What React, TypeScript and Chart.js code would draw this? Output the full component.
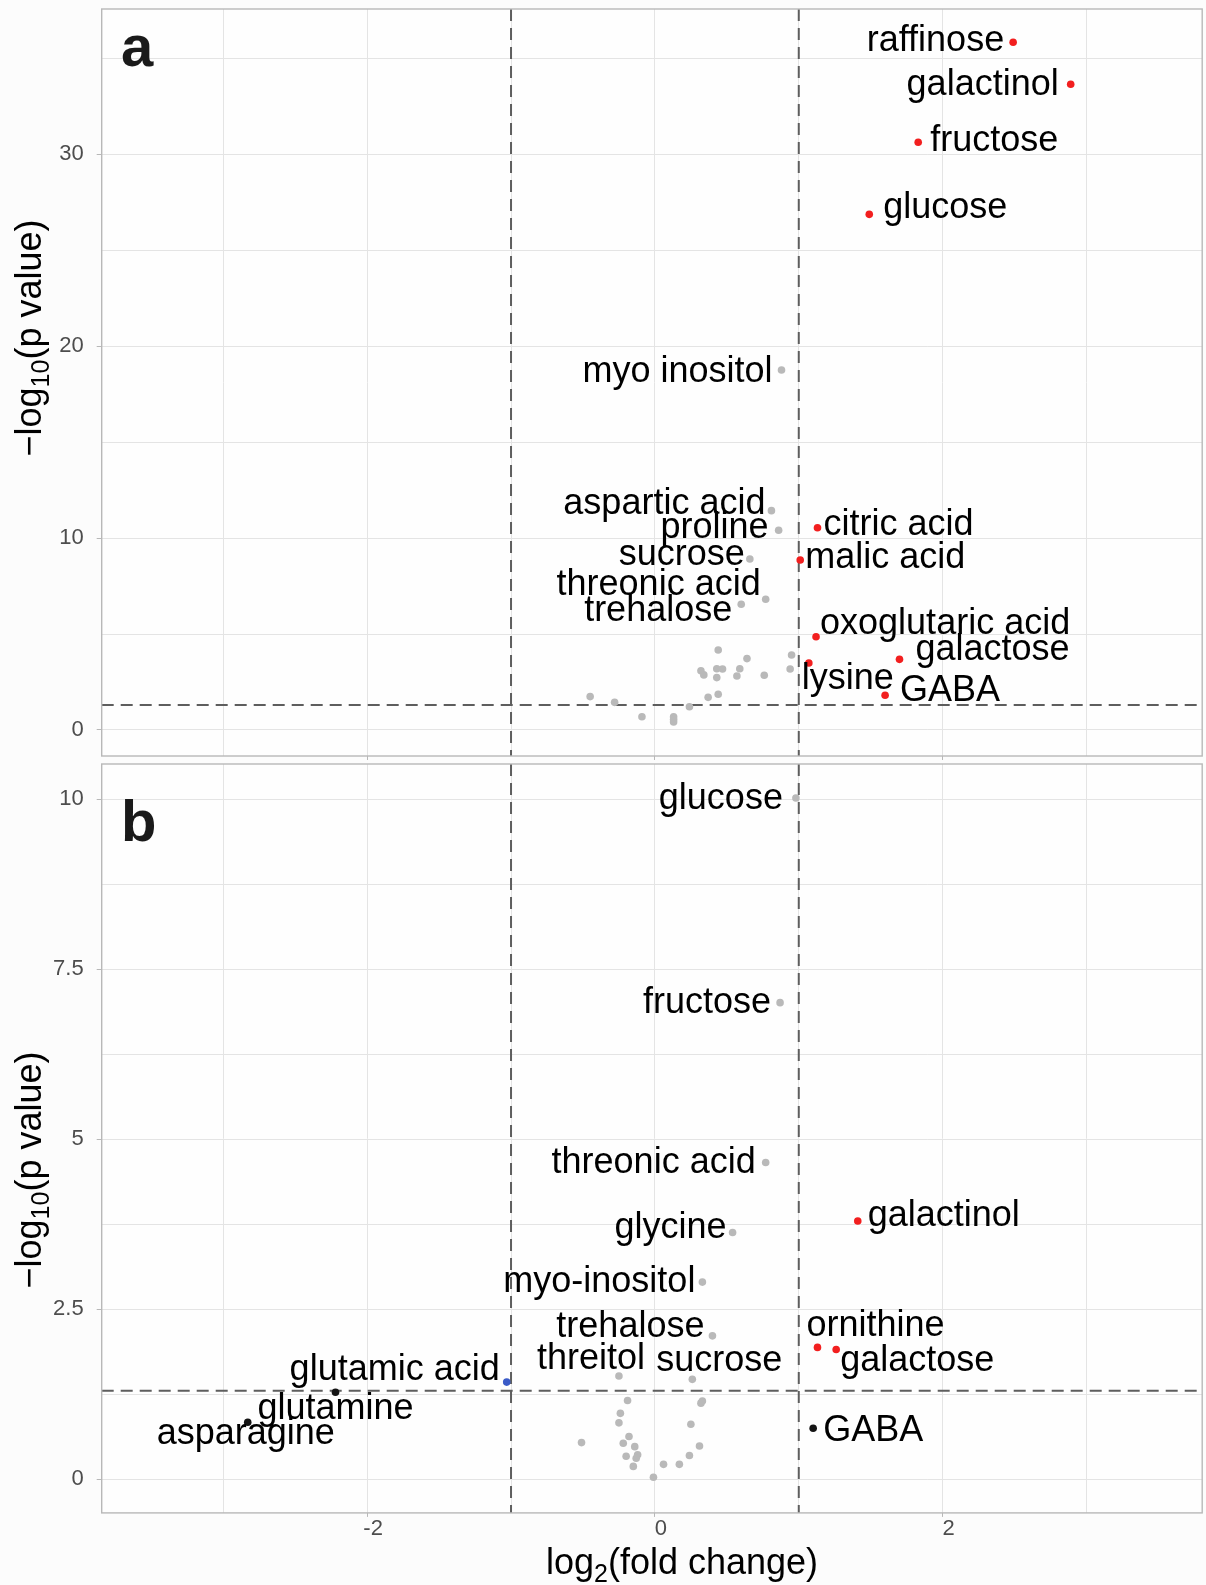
import { useEffect, useRef } from 'react';
import { Chart, registerables } from 'chart.js';

Chart.register(...registerables);

const FONT = '"Liberation Sans", Arial, Helvetica, sans-serif';
const FC_CUTOFF = 1;
const P_CUTOFF = -Math.log10(0.05);

// ---- Panel a: metabolite ('' = unlabelled), log2 fold change, -log10 p ----
const metabolitesA = [
  '', '', '', '', '', '', '', '', '', '', '', '', '', '', '', '', '', '', '', '', '',
  'myo inositol', 'aspartic acid', 'proline', 'sucrose', 'threonic acid', 'trehalose',
  'citric acid', 'malic acid', 'oxoglutaric acid', 'galactose', 'lysine', 'GABA',
  'glucose', 'fructose', 'galactinol', 'raffinose',
];
const log2FoldA = [
  -0.45, -0.28, -0.09, 0.13, 0.13, 0.13, 0.24, 0.37, 0.44, 0.44, 0.32, 0.34, 0.43, 0.47, 0.43,
  0.59, 0.64, 0.57, 0.76, 0.95, 0.94,
  0.88, 0.81, 0.86, 0.66, 0.77, 0.60,
  1.13, 1.01, 1.12, 1.70, 1.07, 1.60,
  1.49, 1.83, 2.89, 2.49,
];
const negLog10PA = [
  1.74, 1.44, 0.69, 0.69, 0.42, 0.55, 1.21, 1.70, 1.86, 4.17, 3.09, 2.87, 3.19, 3.18, 2.73,
  3.19, 3.72, 2.81, 2.85, 3.91, 3.18,
  18.76, 11.43, 10.41, 8.91, 6.81, 6.55,
  10.54, 8.86, 4.86, 3.68, 3.49, 1.81,
  26.87, 30.63, 33.65, 35.84,
];

// ---- Panel b ----
const metabolitesB = [
  '', '', '', '', '', '', '', '', '', '', '', '', '', '', '', '', '', '', '',
  'glucose', 'fructose', 'threonic acid', 'glycine', 'myo-inositol', 'trehalose',
  'threitol', 'sucrose', 'galactinol', 'ornithine', 'galactose', 'GABA',
  'glutamic acid', 'glutamine', 'asparagine',
];
const log2FoldB = [
  -0.19, -0.24, -0.25, -0.51, -0.22, -0.18, -0.14, -0.20, -0.12, -0.13, -0.15, -0.01, 0.06,
  0.17, 0.24, 0.31, 0.25, 0.32, 0.33,
  0.98, 0.87, 0.77, 0.54, 0.33, 0.40,
  -0.25, 0.26, 1.41, 1.13, 1.26, 1.10,
  -1.03, -2.22, -2.83,
];
const negLog10PB = [
  1.16, 0.97, 0.83, 0.54, 0.53, 0.63, 0.48, 0.34, 0.36, 0.31, 0.19, 0.03, 0.22,
  0.22, 0.35, 0.49, 0.81, 1.12, 1.15,
  10.02, 7.01, 4.66, 3.63, 2.90, 2.11,
  1.52, 1.47, 3.80, 1.94, 1.91, 0.75,
  1.43, 1.28, 0.84,
];

// ---- Axis ticks ----
const xMajorTicks = [-2, 0, 2];
const xMinorTicks = [-3, -1, 1, 3];
const yMajorTicksA = [0, 10, 20, 30];
const yMinorTicksA = [5, 15, 25, 35];
const yMajorTicksB = [0, 2.5, 5, 7.5, 10];
const yMinorTicksB = [1.25, 3.75, 6.25, 8.75];

const X_MIN = -3.845;
const X_MAX = 3.804;

// label placement: text alignment, x offset and baseline offset from the point (px)
type Placement = [CanvasTextAlign, number, number];
const labelPlacementA: Record<string, Placement> = {
  raffinose: ['right', -9, 9],
  galactinol: ['right', -12, 11],
  fructose: ['left', 12, 9],
  glucose: ['left', 14, 4],
  'myo inositol': ['right', -9, 12],
  'aspartic acid': ['right', -6, 3],
  proline: ['right', -10, 8],
  sucrose: ['right', -5, 6],
  'threonic acid': ['right', -5, -4],
  trehalose: ['right', -9, 17],
  'citric acid': ['left', 6, 7],
  'malic acid': ['left', 5, 8],
  'oxoglutaric acid': ['left', 4, -3],
  galactose: ['left', 16, 1],
  lysine: ['left', -7, 26],
  GABA: ['left', 15, 6],
};
const labelPlacementB: Record<string, Placement> = {
  glucose: ['right', -13, 11],
  fructose: ['right', -9, 10],
  'threonic acid': ['right', -10, 11],
  glycine: ['right', -6, 6],
  'myo-inositol': ['right', -7, 10],
  galactinol: ['left', 10, 5],
  trehalose: ['right', -8, 1],
  ornithine: ['left', -11, -11],
  threitol: ['right', 26, -7],
  sucrose: ['left', -36, -8],
  galactose: ['left', 4, 22],
  'glutamic acid': ['right', -7, -2],
  glutamine: ['left', -78, 27],
  asparagine: ['left', -91, 22],
  GABA: ['left', 10, 13],
};

const PAGE_BG = '#fcfcfc';
const PANEL_BG = '#fefefe';
const GRID = '#e4e4e4';
const FRAME = '#b8b8b8';
const TICK_TEXT = '#4d4d4d';
const GUIDE = '#5e5e5e';

function pointColour(fc: number, p: number): string {
  const sigP = p > P_CUTOFF;
  const bigFc = Math.abs(fc) > FC_CUTOFF;
  if (sigP && bigFc) return fc > 0 ? '#f21f1f' : '#3a5bc7';
  if (bigFc) return '#141414';
  return '#b9b9b9';
}

type Part = [string, boolean];
function drawRichText(ctx: CanvasRenderingContext2D, parts: Part[], cx: number, baseline: number) {
  const main = `36px ${FONT}`;
  const sub = `25px ${FONT}`;
  let total = 0;
  const widths = parts.map(([t, s]) => {
    ctx.font = s ? sub : main;
    const w = ctx.measureText(t).width;
    total += w;
    return w;
  });
  let x = cx - total / 2;
  ctx.textAlign = 'left';
  ctx.textBaseline = 'alphabetic';
  parts.forEach(([t, s], i) => {
    ctx.font = s ? sub : main;
    ctx.fillText(t, x, baseline + (s ? 8 : 0));
    x += widths[i];
  });
}

interface PanelSpec {
  names: string[];
  fc: number[];
  nlp: number[];
  placement: Record<string, Placement>;
  yMin: number;
  yMax: number;
  yMajor: number[];
  yMinor: number[];
  letter: string;
  letterX: number;
  letterY: number;
  padTop: number;
  xAxisHeight: number;
  showXLabels: boolean;
  yTitleY: number;
  xTitle?: { cx: number; baseline: number };
}

function VolcanoPanel({ spec, width, height, top }: { spec: PanelSpec; width: number; height: number; top: number }) {
  const ref = useRef<HTMLCanvasElement | null>(null);

  useEffect(() => {
    const canvas = ref.current;
    if (!canvas) return;
    const colours = spec.fc.map((x, i) => pointColour(x, spec.nlp[i]));
    const xTicks = [...xMinorTicks, ...xMajorTicks].sort((a, b) => a - b);
    const yTicks = [...spec.yMinor, ...spec.yMajor].sort((a, b) => a - b);

    const backdrop = {
      id: 'backdrop',
      beforeDraw(chart: any) {
        const { ctx, chartArea: a } = chart;
        ctx.save();
        ctx.fillStyle = PAGE_BG;
        ctx.fillRect(0, 0, chart.width, chart.height);
        ctx.fillStyle = PANEL_BG;
        ctx.fillRect(a.left, a.top, a.right - a.left, a.bottom - a.top);
        ctx.restore();
      },
    };

    const guides = {
      id: 'guides',
      beforeDatasetsDraw(chart: any) {
        const { ctx, chartArea: a, scales } = chart;
        ctx.save();
        ctx.strokeStyle = GUIDE;
        ctx.lineWidth = 2;
        ctx.setLineDash([12, 7]);
        [-FC_CUTOFF, FC_CUTOFF].forEach((v) => {
          const px = scales.x.getPixelForValue(v);
          ctx.beginPath();
          ctx.moveTo(px, a.top);
          ctx.lineTo(px, a.bottom);
          ctx.stroke();
        });
        const py = scales.y.getPixelForValue(P_CUTOFF);
        ctx.beginPath();
        ctx.moveTo(a.left, py);
        ctx.lineTo(a.right, py);
        ctx.stroke();
        ctx.restore();
      },
    };

    const labels = {
      id: 'metaboliteLabels',
      afterDatasetsDraw(chart: any) {
        const { ctx } = chart;
        const meta = chart.getDatasetMeta(0);
        ctx.save();
        ctx.font = `36px ${FONT}`;
        ctx.fillStyle = '#000000';
        ctx.textBaseline = 'alphabetic';
        spec.names.forEach((name, i) => {
          if (!name) return;
          const pl = spec.placement[name];
          const el = meta.data[i];
          if (!pl || !el) return;
          ctx.textAlign = pl[0];
          ctx.fillText(name, el.x + pl[1], el.y + pl[2]);
        });
        ctx.restore();
      },
    };

    const frame = {
      id: 'frame',
      afterDraw(chart: any) {
        const { ctx, chartArea: a } = chart;
        ctx.save();
        ctx.strokeStyle = FRAME;
        ctx.lineWidth = 1.4;
        ctx.setLineDash([]);
        ctx.strokeRect(a.left, a.top, a.right - a.left, a.bottom - a.top);

        ctx.fillStyle = '#1a1a1a';
        ctx.font = `bold 58px ${FONT}`;
        ctx.textAlign = 'left';
        ctx.textBaseline = 'alphabetic';
        ctx.fillText(spec.letter, spec.letterX, spec.letterY);

        ctx.fillStyle = '#000000';
        ctx.save();
        ctx.translate(41, spec.yTitleY);
        ctx.rotate(-Math.PI / 2);
        drawRichText(ctx, [['\u2212log', false], ['10', true], ['(p value)', false]], 0, 0);
        ctx.restore();

        if (spec.xTitle) {
          drawRichText(ctx, [['log', false], ['2', true], ['(fold change)', false]], spec.xTitle.cx, spec.xTitle.baseline);
        }
        ctx.restore();
      },
    };

    const chart = new Chart(canvas, {
      type: 'scatter',
      data: {
        datasets: [
          {
            data: spec.fc.map((x, i) => ({ x, y: spec.nlp[i] })),
            pointBackgroundColor: colours,
            pointBorderWidth: 0,
            pointRadius: 3.8,
            pointHoverRadius: 3.8,
          },
        ],
      },
      options: {
        animation: false,
        responsive: false,
        events: [],
        layout: { padding: { top: spec.padTop, right: 2, left: 0, bottom: 0 } },
        plugins: { legend: { display: false }, tooltip: { enabled: false } },
        scales: {
          x: {
            type: 'linear',
            min: X_MIN,
            max: X_MAX,
            afterBuildTicks: (s: any) => {
              s.ticks = xTicks.map((v) => ({ value: v }));
            },
            afterFit: (s: any) => {
              s.height = spec.xAxisHeight;
              s.paddingLeft = 0;
              s.paddingRight = 0;
            },
            border: { display: false },
            grid: {
              color: GRID,
              lineWidth: 1,
              tickLength: 4,
              tickColor: (c: any) => (c.tick && xMajorTicks.includes(c.tick.value) ? FRAME : 'rgba(0,0,0,0)'),
            },
            ticks: {
              display: spec.showXLabels,
              autoSkip: false,
              maxRotation: 0,
              padding: -1,
              labelOffset: 6,
              color: TICK_TEXT,
              font: { family: FONT, size: 22 },
              callback: (v: any) => (xMajorTicks.includes(Number(v)) ? String(v) : ''),
            },
          },
          y: {
            type: 'linear',
            min: spec.yMin,
            max: spec.yMax,
            afterBuildTicks: (s: any) => {
              s.ticks = yTicks.map((v) => ({ value: v }));
            },
            afterFit: (s: any) => {
              s.width = 101.7;
              s.paddingTop = 0;
              s.paddingBottom = 0;
            },
            border: { display: false },
            grid: {
              color: GRID,
              lineWidth: 1,
              tickLength: 5,
              tickColor: (c: any) => (c.tick && spec.yMajor.includes(c.tick.value) ? FRAME : 'rgba(0,0,0,0)'),
            },
            ticks: {
              autoSkip: false,
              padding: 13,
              color: TICK_TEXT,
              font: { family: FONT, size: 22 },
              callback: (v: any) => (spec.yMajor.includes(Number(v)) ? String(v) : ''),
            },
          },
        },
      },
      plugins: [backdrop, guides, labels, frame],
    });

    return () => chart.destroy();
  }, [spec]);

  return (
    <canvas
      ref={ref}
      width={width}
      height={height}
      style={{ position: 'absolute', left: 0, top, width, height, display: 'block' }}
    />
  );
}

const panelA: PanelSpec = {
  names: metabolitesA,
  fc: log2FoldA,
  nlp: negLog10PA,
  placement: labelPlacementA,
  yMin: -1.355,
  yMax: 37.57,
  yMajor: yMajorTicksA,
  yMinor: yMinorTicksA,
  letter: 'a',
  letterX: 121,
  letterY: 66,
  padTop: 9,
  xAxisHeight: 4,
  showXLabels: false,
  yTitleY: 338,
};

const panelB: PanelSpec = {
  names: metabolitesB,
  fc: log2FoldB,
  nlp: negLog10PB,
  placement: labelPlacementB,
  yMin: -0.494,
  yMax: 10.52,
  yMajor: yMajorTicksB,
  yMinor: yMinorTicksB,
  letter: 'b',
  letterX: 121,
  letterY: 81,
  padTop: 4,
  xAxisHeight: 72.1,
  showXLabels: true,
  yTitleY: 410,
  xTitle: { cx: 682, baseline: 814 },
};

export default function App() {
  return (
    <div style={{ position: 'absolute', left: 0, top: 0, width: 1206, height: 1585, background: PAGE_BG, overflow: 'hidden' }}>
      <VolcanoPanel spec={panelA} width={1206} height={760} top={0} />
      <VolcanoPanel spec={panelB} width={1206} height={825} top={760} />
    </div>
  );
}
